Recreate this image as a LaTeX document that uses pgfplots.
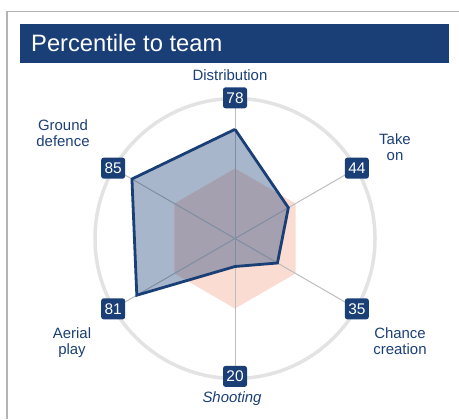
\documentclass[border=0pt]{standalone}
\usepackage{pgfplots}
\pgfplotsset{compat=1.18}
\usepgfplotslibrary{polar}
\usepackage{fontspec}
\setmainfont{Liberation Sans}
\definecolor{navy}{HTML}{1A3F77}
\definecolor{pinkfill}{HTML}{FADCD2}
\definecolor{ringgray}{HTML}{E3E3E3}
\definecolor{spokegray}{HTML}{BDBDBD}
\definecolor{framegray}{HTML}{B4B4B4}
\begin{document}
\begin{tikzpicture}[x=1bp,y=1bp]
\useasboundingbox (0,0) rectangle (459,419);
% frame
\draw[framegray, line width=1.6bp] (7,0) -- (7,407.5) -- (459,407.5);
% title bar
\fill[navy] (20,395) rectangle (449,356.5);
\node[anchor=base west, inner sep=0pt, text=white, font=\fontsize{23.8}{26}\selectfont] at (31,367.3) {Percentile to team};
\begin{polaraxis}[
  at={(235bp,180.5bp)}, anchor=origin,
  scale only axis, width=280bp, height=280bp,
  ymin=0, ymax=100,
  xtick=\empty, ytick=\empty,
  separate axis lines,
  x axis line style={draw=ringgray, line width=3.5bp},
  y axis line style={draw=none},
  major tick length=0pt,
  clip=false,
]
\addplot[fill=pinkfill, draw=none] coordinates {(90,50) (30,50) (330,50) (270,50) (210,50) (150,50) (90,50)};
% spokes
\addplot[spokegray, line width=1bp] coordinates {(90,100) (270,100)};
\addplot[spokegray, line width=1bp] coordinates {(30,100) (210,100)};
\addplot[spokegray, line width=1bp] coordinates {(150,100) (330,100)};
\addplot[fill=navy, fill opacity=0.38, draw=navy, line width=2.8bp, line join=miter] coordinates {
  (90,78) (30,44) (330,35) (270,20) (210,81) (150,85) (90,78)};
% value boxes
\begin{scope}[every node/.style={fill=navy, text=white, rounded corners=2.5bp, minimum width=24bp, minimum height=21bp, inner sep=1bp, font=\fontsize{15.5}{17}\selectfont}]
\node at (axis cs:90,100.5) {78};
\node at (axis cs:30,100.5) {44};
\node at (axis cs:330,100.5) {35};
\node at (axis cs:270,98.5) {20};
\node at (axis cs:210,100.5) {81};
\node at (axis cs:150,100.5) {85};
\end{scope}
\end{polaraxis}
% category labels
\begin{scope}[every node/.style={text=navy, align=center, inner sep=0pt, font=\fontsize{15}{16}\selectfont}]
\node at (230,419-75) {Distribution};
\node at (395,419-147) {Take\\on};
\node at (400,419-341) {Chance\\creation};
\node at (232,419-399) {\itshape Shooting};
\node at (72,419-343) {Aerial\\play};
\node at (63,419-133) {Ground\\defence};
\end{scope}
\end{tikzpicture}
\end{document}
